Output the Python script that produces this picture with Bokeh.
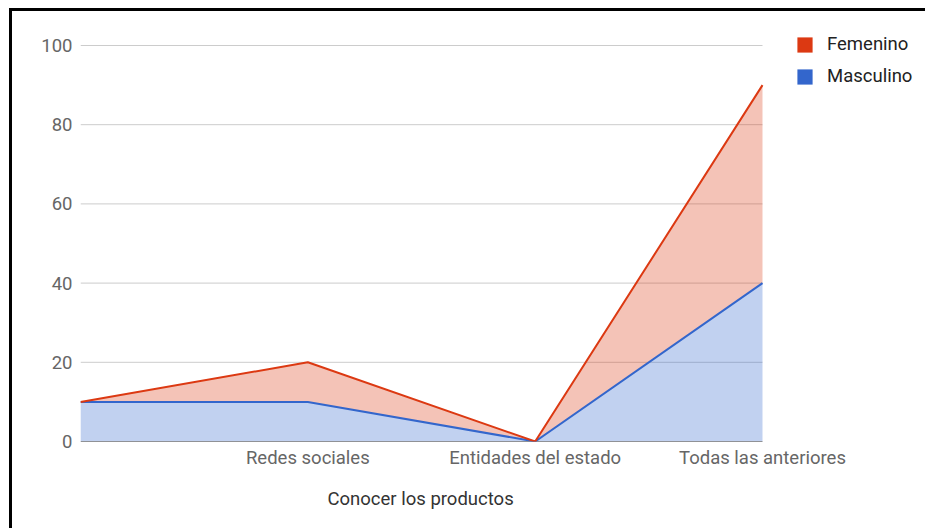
from bokeh.plotting import figure
from bokeh.models import (ColumnDataSource, FixedTicker, Range1d, Legend, LegendItem, Title)
from bokeh.embed import file_html
from bokeh.resources import INLINE

# Data
categories = ["", "Redes sociales", "Entidades del estado", "Todas las anteriores"]
masculino = [10, 10, 0, 40]
femenino = [0, 10, 0, 50]
y_ticks = [0, 20, 40, 60, 80, 100]

RED = "#dc3912"
BLUE = "#3366cc"
FONT = "Roboto"
FS = "18.5px"

x = list(range(len(categories)))
stack_top = [m + f for m, f in zip(masculino, femenino)]
source = ColumnDataSource(dict(x=x, zero=[0] * len(x), masc=masculino, total=stack_top))

# Plot area geometry (pixels): data spans 682 x 396 px, the frame also
# reaches to the right/top edges so the legend sits inside it.
W, H = 916, 520
LEFT, BOTTOM = 68, 90
x_px = 682 / (len(categories) - 1)
y_px = 396 / 100
x_end = (W - LEFT) / x_px
y_end = (H - BOTTOM) / y_px

p = figure(width=W, height=H, output_backend="svg", toolbar_location=None,
           x_range=Range1d(0, x_end), y_range=Range1d(0, y_end),
           min_border_left=LEFT, min_border_right=0, min_border_top=0,
           min_border_bottom=BOTTOM)
p.outline_line_color = None
p.background_fill_color = "white"
p.border_fill_color = "white"
# black frame around the chart (top and left edges)
p.styles = {"border-top": "3px solid black", "border-left": "3px solid black",
            "margin-left": "9px", "margin-top": "8px"}

# Horizontal gridlines limited to the category span
grid = ColumnDataSource(dict(y=y_ticks[1:], x0=[x[0]] * (len(y_ticks) - 1),
                             x1=[x[-1]] * (len(y_ticks) - 1)))
p.segment(x0="x0", y0="y", x1="x1", y1="y", source=grid, line_color="#cccccc",
          line_width=1, level="underlay")

# Stacked areas
p.varea(x="x", y1="zero", y2="masc", source=source, fill_color=BLUE, fill_alpha=0.3)
p.varea(x="x", y1="masc", y2="total", source=source, fill_color=RED, fill_alpha=0.3)

# Baseline
base = ColumnDataSource(dict(x0=[x[0]], x1=[x[-1]], y=[y_ticks[0]]))
p.segment(x0="x0", y0="y", x1="x1", y1="y", source=base, line_color="#333333", line_width=1)

p.line(x="x", y="masc", source=source, line_color=BLUE, line_width=2)
p.line(x="x", y="total", source=source, line_color=RED, line_width=2)

# Axes
p.xgrid.grid_line_color = None
p.ygrid.grid_line_color = None

p.xaxis.ticker = FixedTicker(ticks=x)
p.xaxis.major_label_overrides = {i: c for i, c in enumerate(categories)}
p.xaxis.major_tick_line_color = None
p.xaxis.major_tick_out = 0
p.xaxis.minor_tick_line_color = None
p.xaxis.axis_line_color = None
p.xaxis.major_label_text_font = FONT
p.xaxis.major_label_text_font_size = FS
p.xaxis.major_label_text_color = "#666666"
p.xaxis.major_label_standoff = 5

p.yaxis.ticker = FixedTicker(ticks=y_ticks)
p.yaxis.major_tick_line_color = None
p.yaxis.major_tick_out = 0
p.yaxis.minor_tick_line_color = None
p.yaxis.axis_line_color = None
p.yaxis.major_label_text_font = FONT
p.yaxis.major_label_text_font_size = FS
p.yaxis.major_label_text_color = "#666666"
p.yaxis.major_label_standoff = 8

# X axis title
xtitle = Title(text="Conocer los productos", align="left", offset=247,
               vertical_align="top", standoff=32,
               text_font=FONT, text_font_size=FS, text_font_style="normal",
               text_color="#333333")
p.add_layout(xtitle, "below")

# Legend with solid swatches
sw_f = p.varea(x="x", y1="masc", y2="total", source=source, fill_color=RED,
               fill_alpha=1, visible=False)
sw_m = p.varea(x="x", y1="zero", y2="masc", source=source, fill_color=BLUE,
               fill_alpha=1, visible=False)
legend = Legend(items=[LegendItem(label="Femenino", renderers=[sw_f]),
                       LegendItem(label="Masculino", renderers=[sw_m])],
                location=(715, 354), glyph_width=19, glyph_height=19,
                label_height=15, label_standoff=13, spacing=10, padding=0, margin=0,
                border_line_color=None, background_fill_alpha=0,
                inactive_fill_alpha=0,
                label_text_font=FONT, label_text_font_size=FS,
                label_text_color="#222222")
p.add_layout(legend, "center")

open("out.html", "w").write(file_html(p, INLINE))
